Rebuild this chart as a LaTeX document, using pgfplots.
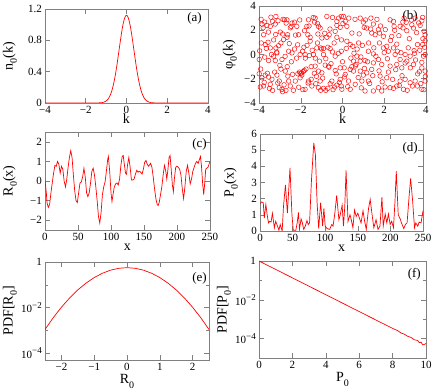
\documentclass[border=0pt]{standalone}
\usepackage{fontspec}
\setmainfont{Liberation Serif}
\usepackage{pgfplots}
\pgfplotsset{compat=1.18}
\definecolor{gpred}{RGB}{255,0,0}
\definecolor{gpframe}{RGB}{128,128,128}
\newcommand{\sub}[1]{\raisebox{-0.3em}{\fontsize{10}{10}\selectfont #1}}
\newcommand{\sups}[1]{\raisebox{0.45em}{\fontsize{9}{9}\selectfont #1}}

\pgfplotsset{
  gp/.style={
    scale only axis,
    axis line style={draw=gpframe, line width=0.6pt},
    every tick/.style={draw=gpframe, line width=0.5pt},
    tick align=inside,
    major tick length=5pt, minor tick length=3pt,
    tick label style={font=\fontsize{11}{11}\selectfont, inner sep=1pt, text=black},
    xticklabel style={yshift=-2pt},
    yticklabel style={xshift=-2pt},
    xlabel style={at={([yshift=-21pt]axis description cs:0.5,0)}, anchor=base,
                  font=\fontsize{14}{14}\selectfont, inner sep=0pt},
    ylabel style={at={([xshift=-35pt]axis description cs:0,0.5)}, anchor=center,
                  font=\fontsize{14}{14}\selectfont, inner sep=0pt},
  },
  gpline/.style={draw=gpred, line width=0.7pt, mark=none},
}
\tikzset{panel/.style={anchor=north east, inner sep=0pt, font=\fontsize{13}{13}\selectfont}}

\begin{document}
\begin{tikzpicture}
\path[use as bounding box] (0,0) rectangle (436pt,390pt);

% (a) momentum distribution
\begin{axis}[gp, at={(45pt,287pt)}, anchor=south west, width=163pt, height=94pt,
  xmin=-4, xmax=4, ymin=0, ymax=1.2,
  xtick={-4,-2,0,2,4}, xticklabels={−4,−2,0,2,4},
  ytick={0,0.4,0.8,1.2}, yticklabels={0,0.4,0.8,1.2},
  xlabel={k}, ylabel={n\sub{0}(k)}]
\addplot[gpline] coordinates {
  (-4,0) (-1.6,0) (-1.4,0.00065) (-1.2,0.0047) (-1.1,0.0113) (-1.0,0.0251)
  (-0.95,0.0363) (-0.9,0.0516) (-0.85,0.0719) (-0.8,0.0984) (-0.75,0.132)
  (-0.7,0.174) (-0.65,0.225) (-0.6,0.285) (-0.55,0.355) (-0.5,0.433)
  (-0.45,0.519) (-0.4,0.610) (-0.35,0.703) (-0.3,0.795) (-0.25,0.883)
  (-0.2,0.962) (-0.15,1.028) (-0.1,1.078) (-0.05,1.109) (0,1.12)
  (0.05,1.109) (0.1,1.078) (0.15,1.028) (0.2,0.962) (0.25,0.883)
  (0.3,0.795) (0.35,0.703) (0.4,0.610) (0.45,0.519) (0.5,0.433)
  (0.55,0.355) (0.6,0.285) (0.65,0.225) (0.7,0.174) (0.75,0.132)
  (0.8,0.0984) (0.85,0.0719) (0.9,0.0516) (0.95,0.0363) (1.0,0.0251)
  (1.1,0.0113) (1.2,0.0047) (1.4,0.00065) (1.6,0) (4,0)};
\node[panel] at ([xshift=-6pt,yshift=-3pt]rel axis cs:1,1) {(a)};
\end{axis}

% (b) random phases
\begin{axis}[gp, at={(259pt,287pt)}, anchor=south west, width=167pt, height=97pt,
  xmin=-4, xmax=4, ymin=-4, ymax=4,
  xtick={-4,-2,0,2,4}, xticklabels={−4,−2,0,2,4},
  ytick={-4,-2,0,2,4}, yticklabels={−4,−2,0,2,4},
  xlabel={k}, ylabel={φ\sub{0}(k)},
  ylabel style={at={([xshift=-29pt]axis description cs:0,0.5)}}]
\addplot[only marks, mark=o, mark size=2.3pt, draw=gpred, mark options={line width=0.45pt}]
  coordinates {
  (-3.43,3.08) (-3.19,3.14) (-3.09,2.78) (-3.35,2.73) (-3.73,2.67) (-3.62,2.40)
  (-3.46,2.32) (-3.22,2.51) (-2.78,2.86) (-2.66,2.86) (-2.70,2.59) (-2.42,2.59)
  (-2.30,2.67) (-2.19,2.32) (-2.46,2.32) (-1.63,2.86) (-1.31,3.00) (-1.34,2.67)
  (-1.15,2.32) (-1.07,2.18) (-1.71,2.32) (-0.75,3.14) (-0.48,3.06) (-0.27,2.73)
  (-0.19,3.00) (-0.06,3.14) (-0.27,2.40) (-0.11,2.24) (-0.35,1.91)
  (-3.78,1.63) (-3.89,0.95) (-3.57,1.01) (-3.70,0.82) (-2.98,1.85) (-2.87,1.69)
  (-2.63,1.63) (-2.66,1.42) (-2.82,1.23) (-2.11,1.63) (-1.82,1.96) (-1.66,1.63)
  (-1.55,1.42) (-1.18,1.69) (-0.99,1.36) (-0.75,1.42) (-0.64,1.63) (-0.27,1.42)
  (-3.06,0.73) (-3.19,0.54) (-3.14,0.13) (-3.30,-0.14) (-3.22,-0.50) (-3.73,-0.22)
  (-3.54,-0.50) (-3.99,-0.41) (-2.90,-0.41) (-2.58,0.27) (-2.42,0.13) (-2.03,0.00)
  (-1.91,0.27) (-1.79,0.00) (-1.59,-0.09) (-1.39,0.00) (-1.23,0.54) (-1.04,0.54)
  (-0.91,0.49) (-0.91,0.00) (-0.59,0.49) (-0.48,0.21) (-0.35,-0.14) (-0.06,0.27)
  (-3.46,0.54)
  (-3.99,-1.59) (-3.86,-1.92) (-3.70,-1.70) (-3.54,-1.86) (-3.38,-2.05) (-3.94,-2.68)
  (-3.78,-2.60) (-3.46,-2.46) (-3.14,-1.70) (-3.03,-2.19) (-2.74,-1.37) (-2.62,-1.78)
  (-2.39,-1.64) (-2.26,-2.19) (-2.14,-1.59) (-2.06,-1.45) (-1.95,-1.51) (-1.83,-1.32)
  (-2.03,-1.92) (-2.58,-2.19) (-2.50,-2.60) (-2.90,-2.87) (-2.87,-3.07) (-2.71,-2.96)
  (-3.03,-2.74) (-3.35,-2.96) (-1.79,-2.87) (-1.63,-2.19) (-1.50,-2.05) (-1.47,-2.60)
  (-1.28,-2.41) (-1.15,-2.74) (-1.07,-2.19) (-0.91,-2.79) (-0.80,-2.96) (-0.70,-2.79)
  (-0.59,-2.41) (-0.51,-2.19) (-0.38,-2.68) (-0.27,-2.52) (-0.06,-2.60) (-0.11,-2.05)
  (-1.31,-0.96) (-1.15,-1.37) (-0.99,-1.51) (-0.83,-0.88) (-0.67,-0.96) (-0.35,-1.32)
  (-0.11,-1.10)
  (0.05,3.14) (0.13,2.73) (0.21,2.32) (0.45,1.77) (0.85,3.00) (1.00,2.67) (1.04,2.24)
  (1.16,2.18) (1.36,3.00) (1.48,2.51) (1.40,1.77) (1.56,1.63) (1.72,2.04) (1.77,1.77)
  (1.96,1.50) (2.28,2.86) (2.44,2.73) (2.47,2.32) (2.36,1.50) (2.76,2.32) (2.89,2.67)
  (2.95,3.00) (3.08,1.96) (3.32,2.45) (3.40,2.18) (3.48,3.00) (3.80,2.78) (3.84,3.06)
  (3.91,1.91) (3.96,1.63) (3.72,2.40)
  (0.21,1.09) (0.37,0.82) (0.49,0.68) (0.77,0.95) (0.69,-0.14) (0.53,-0.55) (0.65,-0.82)
  (0.85,-0.55) (1.08,-0.50) (1.24,0.27) (1.48,0.05) (1.77,0.95) (1.96,0.54) (2.12,0.68)
  (2.20,0.27) (2.44,0.54) (2.52,0.00) (2.63,0.27) (2.76,-0.41) (3.00,0.00) (3.24,-0.14)
  (3.43,0.32) (3.59,0.82) (3.84,0.82) (3.96,1.14) (3.88,-0.14) (3.96,0.00) (3.80,-1.10)
  (3.68,-1.43) (3.96,-1.37) (3.40,-0.82) (3.08,-0.55) (2.84,-1.10) (2.60,-0.82)
  (2.28,-0.96) (1.88,-0.82) (1.72,-0.41) (1.48,-0.69) (1.40,-1.23) (1.16,-1.51)
  (1.00,-1.70) (0.85,-1.37) (0.53,-1.37) (0.37,-1.23) (0.08,-1.10) (0.13,-1.64)
  (0.29,-2.19) (-0.03,-2.87) (0.37,-2.87) (0.61,-2.46) (0.93,-2.19) (1.08,-3.01)
  (1.48,-3.01) (1.72,-2.74) (1.88,-3.01) (2.04,-2.68) (2.28,-2.74) (2.44,-2.79)
  (2.60,-2.60) (2.76,-2.19) (3.00,-2.05) (3.24,-2.33) (3.48,-2.19) (3.59,-2.60)
  (3.80,-2.87) (3.96,-2.19) (2.92,-2.87) (2.12,-1.92) (1.80,-1.78) (1.24,-2.19)
  (-3.9,2.9) (-3.8,2.2) (-3.55,1.85) (-3.3,1.2) (-3.15,0.2) (-3.0,-0.9) (-2.95,-1.2)
  (-2.8,-2.5) (-2.55,0.9) (-2.45,-0.6) (-2.3,0.45) (-2.2,-0.3) (-2.1,-2.7) (-2.0,-1.55)
  (-1.95,-1.7) (-1.88,-1.4) (-1.75,-1.2) (-1.7,0.75) (-1.6,2.35) (-1.5,-1.0) (-1.45,0.35)
  (-1.4,3.05) (-1.3,-0.3) (-1.25,-1.8) (-1.2,0.95) (-1.1,-0.55) (-1.05,-2.95) (-1.0,0.45)
  (-0.95,-1.95) (-0.85,1.75) (-0.8,-0.35) (-0.7,0.6) (-0.65,-1.05) (-0.6,2.1) (-0.55,-0.75)
  (-0.45,-2.9) (-0.4,0.95) (-0.3,-1.6) (-0.2,0.1) (-0.15,-2.3) (-0.05,1.2) (0.0,-0.6)
  (0.02,2.55) (0.1,-1.85) (0.18,0.5) (0.25,-2.65) (0.3,3.0) (0.4,-0.3) (0.45,-1.0)
  (0.55,0.1) (0.6,2.9) (0.62,-0.95) (0.7,0.45) (0.75,-1.9) (0.8,1.7) (0.88,-0.2)
  (0.9,-2.75) (0.95,0.75) (1.05,-1.15) (1.1,2.85) (1.2,-0.6) (1.25,0.95) (1.3,-2.4)
  (1.35,2.1) (1.45,-1.75) (1.5,0.55) (1.6,-0.15) (1.65,2.9) (1.75,-1.35) (1.82,2.35)
  (1.9,-2.25) (2.0,0.15) (2.05,2.05) (2.15,-0.35) (2.2,-1.45) (2.3,1.15) (2.4,-2.05)
  (2.5,2.0) (2.55,-1.25) (2.6,0.85) (2.7,1.55) (2.72,-2.55) (2.8,0.15) (2.85,-1.75)
  (2.9,2.2) (3.0,-0.7) (3.05,2.65) (3.1,-2.95) (3.15,0.55) (3.2,1.3) (3.25,-1.1)
  (3.3,2.85) (3.35,-2.6) (3.45,0.1) (3.5,-0.45) (3.55,1.8) (3.6,-1.6) (3.65,2.6)
  (3.7,0.35) (3.75,-2.4) (3.8,-0.65) (3.85,1.3) (3.9,-2.9) (3.93,0.6) (3.97,-1.8)
  (-3.97,0.3) (-3.92,-1.2) (-3.85,2.5) (-3.75,-2.3) (-3.65,0.5) (-3.6,-1.55) (-3.5,-2.8)
  (-3.4,0.0) (-3.25,-1.45) (-3.2,1.65) (-3.1,-2.35) (-2.95,0.95) (-2.85,2.9) (-2.75,-0.15)
  (-2.65,-1.0) (-2.5,2.2) (-2.35,-2.95) (-2.25,1.6) (-2.15,0.8) (-2.05,2.85) (-1.9,-2.9)
  (-1.85,0.6) (-1.78,-0.3) (-1.65,-2.35) (-1.55,1.1) (-1.35,-1.55) (-1.2,2.55)};
\node[panel] at ([xshift=-8pt,yshift=-4pt]rel axis cs:1,1) {(b)};
\end{axis}

% (c) real part in space
\begin{axis}[gp, at={(45pt,160pt)}, anchor=south west, width=165pt, height=98pt,
  xmin=0, xmax=250, ymin=-2.5, ymax=2.5,
  xtick={0,50,100,150,200,250}, xticklabels={0,50,100,150,200,250},
  ytick={-2,-1,0,1,2}, yticklabels={−2,−1,0,1,2},
  xlabel={x}, ylabel={R\sub{0}(x)}]
\addplot[gpline] coordinates {
  (0,0.05) (2,-0.6) (3,-1.1) (5,-1.35) (7,-1.2) (9,-0.6) (11,-0.1) (13,0.4)
  (15,0.8) (17,0.75) (19,1.0) (21,0.85) (23,0.4) (25,0.75) (27,0.6) (29,0.0)
  (31,-0.3) (33,0.1) (35,0.7) (37,1.2) (39,1.55) (41,1.2) (43,0.3) (45,-0.5)
  (47,-1.0) (49,-1.1) (51,-0.6) (53,-0.1) (55,-0.05) (57,0.2) (59,0.65) (61,0.2)
  (63,-0.6) (65,-0.8) (67,-0.6) (69,-0.1) (71,0.5) (73,0.65) (75,0.3) (77,-0.3)
  (79,-1.0) (81,-1.8) (83,-2.15) (85,-1.6) (87,-0.7) (89,-0.3) (91,-0.05) (93,0.5)
  (95,1.1) (96,1.25) (98,0.5) (100,-0.6) (101.5,-1.05) (103,-0.7) (105,-0.3)
  (107,-0.15) (109,-0.1) (111,-0.2) (113,0.1) (115,0.8) (117,1.25) (118.5,1.3)
  (120,0.9) (122,0.4) (123.5,0.35) (125,0.8) (127,1.2) (129,0.7) (131,0.05)
  (133,0.05) (135,0.1) (137,0.35) (139,0.55) (141,0.45) (143,0.5) (145,0.45)
  (147,0.35) (149,0.6) (151,0.95) (153,1.05) (155,0.85) (157,0.75) (159,0.85)
  (160,0.9) (162,0.7) (164,0.2) (166,-0.4) (168,-0.9) (170,-1.2) (171.5,-1.25)
  (173,-1.1) (175,-0.7) (177,-0.3) (179,0.3) (181,0.8) (183,0.5) (184.5,0.1)
  (186,0.5) (188,1.2) (189.5,1.3) (191,0.7) (193,-0.2) (194.5,-0.55) (196,0.1)
  (198,0.7) (200,0.75) (202,0.7) (204,0.6) (206,0.3) (208,-0.4) (210,-0.9)
  (212,-0.3) (214,0.5) (216,0.8) (218,0.4) (220,-0.15) (222,0.1) (224,0.5)
  (226,0.7) (228,0.9) (230,1.0) (232,0.9) (234,1.1) (235.5,1.25) (237,0.8)
  (239,-0.2) (240.5,-0.7) (242,-0.1) (243.5,0.6) (245,0.65) (247,0.7) (249,0.9)
  (250,1.0)};
\node[panel] at ([xshift=-3pt,yshift=-6pt]rel axis cs:1,1) {(c)};
\end{axis}

% (d) intensity in space
\begin{axis}[gp, at={(260pt,159pt)}, anchor=south west, width=163pt, height=97pt,
  xmin=0, xmax=250, ymin=0, ymax=6,
  xtick={0,50,100,150,200,250}, xticklabels={0,50,100,150,200,250},
  ytick={0,1,2,3,4,5,6}, yticklabels={0,1,2,3,4,5,6},
  xlabel={x}, ylabel={P\sub{0}(x)},
  ylabel style={at={([xshift=-29pt]axis description cs:0,0.5)}}]
\addplot[gpline] coordinates {
  (0,1.7) (2.5,1.8) (5,1.75) (6.6,0.8) (9,1.65) (11,1.0) (13,0.5) (15,0.6)
  (17,0.55) (19,1.1) (22,0.2) (24,0.6) (26,0.4) (29,0.05) (31,0.4) (34,0.0)
  (36,1.5) (39,2.85) (42,1.1) (44,2.5) (46,3.9) (49,1.0) (51,0.05) (53,0.05)
  (55,0.05) (57,0.5) (59,1.15) (60.5,0.1) (63,0.75) (65,0.5) (67,0.1) (69.5,0.3)
  (72,0.65) (74,0.4) (76,0.5) (79,3.2) (82.5,5.45) (85,4.7) (87.5,1.8) (90,0.15)
  (93,1.75) (96,0.3) (98,1.4) (100,0.3) (103,0.15) (107,0.1) (110,0.4) (112,0.3)
  (114.5,1.0) (117.6,2.2) (121,0.7) (123,1.0) (126,1.6) (128,0.3) (130,1.5)
  (132,3.75) (135,0.6) (138,1.0) (140,0.7) (142.5,0.2) (145,1.3) (147.5,0.9)
  (150,1.1) (152.5,0.8) (155,0.5) (158,1.25) (160.5,0.6) (163,0.1) (166.5,1.4)
  (169,1.95) (171.6,1.1) (174.6,0.2) (178,0.7) (181,0.1) (184,0.3) (187,2.1)
  (189,0.3) (192,1.05) (194.5,0.5) (197,1.05) (199.6,0.4) (202,0.6) (204.7,0.2)
  (207,1.8) (209,3.7) (212,1.0) (215,0.75) (217,0.5) (220.5,0.15) (223,0.4)
  (225.6,0.5) (228.6,2.1) (231,3.25) (234,1.9) (237,0.2) (239,0.5) (242,0.3)
  (244,0.55) (247,0.5) (250,1.25)};
\node[panel] at ([xshift=-5pt,yshift=-8pt]rel axis cs:1,1) {(d)};
\end{axis}

% (e) PDF of the real part
\begin{axis}[gp, at={(45pt,30pt)}, anchor=south west, width=164pt, height=98pt,
  ymode=log, xmin=-2.5, xmax=2.5, ymin=5e-5, ymax=1,
  xtick={-2,-1,0,1,2}, xticklabels={−2,−1,0,1,2},
  ytick={1e-4,1e-2,1}, yticklabels={10\sups{−4},10\sups{−2},1},
  minor ytick={1e-3,1e-1},
  xlabel={R\sub{0}}, ylabel={PDF[R\sub{0}]}, xlabel style={yshift=-3pt}]
\addplot[gpline] coordinates {
  (-2.5,0.00109) (-2.25,0.00357) (-2.0,0.01033) (-1.75,0.02638) (-1.5,0.0595)
  (-1.25,0.1182) (-1.0,0.2075) (-0.75,0.321) (-0.5,0.439) (-0.25,0.530) (0,0.564)
  (0.25,0.530) (0.5,0.439) (0.75,0.321) (1.0,0.2075) (1.25,0.1182) (1.5,0.0595)
  (1.75,0.02638) (2.0,0.01033) (2.25,0.00357) (2.5,0.00109)};
\node[panel] at ([xshift=-2pt,yshift=-10pt]rel axis cs:1,1) {(e)};
\end{axis}

% (f) PDF of the intensity
\begin{axis}[gp, at={(259pt,32pt)}, anchor=south west, width=167pt, height=97pt,
  ymode=log, xmin=0, xmax=10, ymin=1e-5, ymax=1,
  xtick={0,2,4,6,8,10}, xticklabels={0,2,4,6,8,10},
  ytick={1e-4,1e-2,1}, yticklabels={10\sups{−4},10\sups{−2},1},
  minor ytick={1e-5,1e-3,1e-1},
  xlabel={P\sub{0}}, ylabel={PDF[P\sub{0}]}, xlabel style={yshift=-3pt}]
\addplot[gpline] coordinates {
  (0,1) (1,0.3679) (2,0.1353) (3,0.04979) (4,0.01832) (5,0.006738) (6,0.002479)
  (7,0.000912) (7.5,0.000553) (8,0.000335) (8.3,0.00026) (8.5,0.000195)
  (8.7,0.000170) (8.9,0.000132) (9.1,0.000115) (9.3,0.0000870) (9.5,0.0000800)
  (9.6,0.0000620) (9.7,0.0000660) (9.8,0.0000480) (9.9,0.0000500) (10,0.0000560)};
\node[panel] at ([xshift=-5pt,yshift=-7pt]rel axis cs:1,1) {(f)};
\end{axis}
\end{tikzpicture}
\end{document}
